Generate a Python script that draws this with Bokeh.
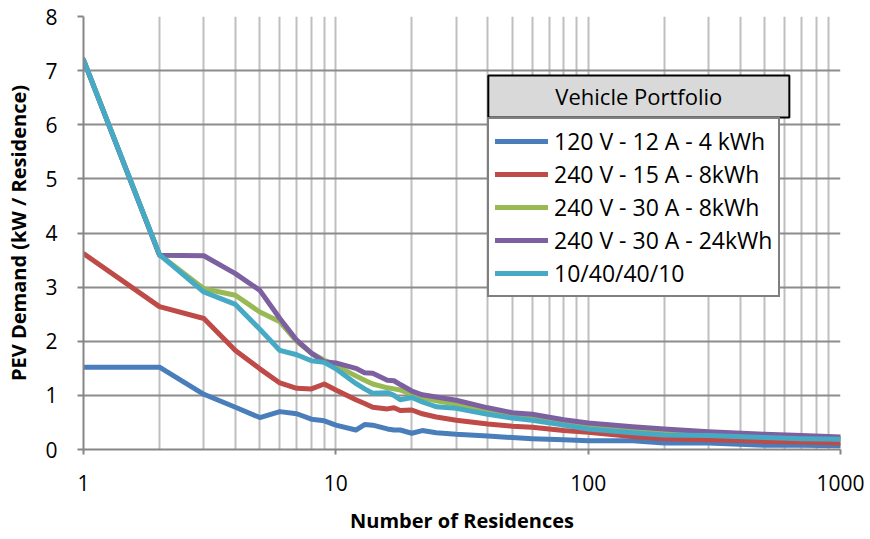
from bokeh.plotting import figure
from bokeh.models import (Legend, LegendItem, FixedTicker, PrintfTickFormatter,
                          BoxAnnotation, Label, Range1d)
from bokeh.embed import file_html
from bokeh.resources import INLINE

# ---------------- data ----------------
residences = [1, 2, 3, 4, 5, 6, 7, 8, 9, 10, 12, 13, 14, 16, 17, 18, 20, 22, 25, 30,
              40, 50, 60, 80, 100, 150, 200, 300, 500, 700, 1000]

series_names = ["120 V - 12 A - 4 kWh", "240 V - 15 A - 8kWh", "240 V - 30 A - 8kWh",
                "240 V - 30 A - 24kWh", "10/40/40/10"]

v120_12a_4kwh = [1.52, 1.52, 1.02, 0.78, 0.59, 0.70, 0.66, 0.56, 0.53, 0.45, 0.36, 0.46, 0.45,
                 0.38, 0.36, 0.36, 0.30, 0.35, 0.31, 0.28, 0.25, 0.22, 0.20, 0.18, 0.16, 0.16,
                 0.12, 0.12, 0.08, 0.08, 0.07]
v240_15a_8kwh = [3.62, 2.64, 2.42, 1.83, 1.49, 1.23, 1.13, 1.12, 1.21, 1.10, 0.92, 0.85, 0.78,
                 0.75, 0.77, 0.72, 0.73, 0.66, 0.60, 0.54, 0.47, 0.43, 0.41, 0.35, 0.32, 0.24,
                 0.20, 0.18, 0.15, 0.14, 0.12]
v240_30a_8kwh = [7.20, 3.60, 2.97, 2.85, 2.54, 2.36, 2.00, 1.78, 1.65, 1.55, 1.36, 1.28, 1.21,
                 1.14, 1.12, 1.10, 1.02, 0.96, 0.90, 0.84, 0.70, 0.63, 0.58, 0.50, 0.44, 0.36,
                 0.32, 0.27, 0.24, 0.22, 0.20]
v240_30a_24kwh = [7.20, 3.59, 3.58, 3.25, 2.94, 2.42, 2.02, 1.78, 1.62, 1.60, 1.50, 1.42, 1.41,
                  1.28, 1.27, 1.20, 1.08, 1.01, 0.97, 0.91, 0.77, 0.68, 0.65, 0.55, 0.49, 0.42,
                  0.38, 0.33, 0.28, 0.26, 0.23]
mix_10_40_40_10 = [7.20, 3.60, 2.91, 2.68, 2.22, 1.83, 1.75, 1.64, 1.61, 1.49, 1.22, 1.12, 1.04,
                   1.05, 1.00, 0.92, 0.96, 0.88, 0.79, 0.76, 0.65, 0.58, 0.54, 0.45, 0.38, 0.31,
                   0.27, 0.26, 0.22, 0.20, 0.19]

series_values = [v120_12a_4kwh, v240_15a_8kwh, v240_30a_8kwh, v240_30a_24kwh, mix_10_40_40_10]
series_colors = ["#4A7EBB", "#BE4B48", "#98B954", "#7D60A0", "#46AAC5"]

x_major = [1, 10, 100, 1000]
y_ticks = [0, 1, 2, 3, 4, 5, 6, 7, 8]

# ---------------- figure ----------------
p = figure(width=870, height=539, x_axis_type="log",
           x_range=Range1d(1, 1000), y_range=Range1d(0, 8),
           output_backend="svg", toolbar_location=None,
           min_border_left=83, min_border_right=30, min_border_top=16, min_border_bottom=90)
p.outline_line_color = None
p.background_fill_color = "white"
p.border_fill_color = "white"

minor = [m * d for d in (1, 10, 100) for m in range(2, 10)]
p.xaxis.ticker = FixedTicker(ticks=x_major, minor_ticks=minor)
p.xaxis.formatter = PrintfTickFormatter(format="%d")
p.yaxis.ticker = FixedTicker(ticks=y_ticks, minor_ticks=[])

p.xgrid.grid_line_color = "#BFBFBF"
p.xgrid.grid_line_width = 2
p.xgrid.minor_grid_line_color = "#BFBFBF"
p.xgrid.minor_grid_line_width = 2
p.ygrid.grid_line_color = "#8C8C8C"
p.ygrid.grid_line_width = 2

for ax in (p.xaxis[0], p.yaxis[0]):
    ax.axis_line_color = "#868686"
    ax.axis_line_width = 2
    ax.major_tick_line_color = "#868686"
    ax.major_tick_line_width = 2
    ax.minor_tick_out = 0
    ax.minor_tick_in = 0
    ax.major_tick_in = 0
    ax.major_label_text_font = "Open Sans"
    ax.major_label_text_font_size = "21px"
    ax.major_label_text_color = "black"
    ax.axis_label_text_font = "Open Sans"
    ax.axis_label_text_font_style = "bold"
    ax.axis_label_text_font_size = "20px"
    ax.axis_label_text_color = "black"

p.xaxis.major_tick_out = 5
p.xaxis.major_label_standoff = 20
p.xaxis.axis_label = "Number of Residences"
p.xaxis.axis_label_standoff = 13
p.yaxis.major_tick_out = 6
p.yaxis.major_label_standoff = 20
p.yaxis.axis_label = "PEV Demand (kW / Residence)"
p.yaxis.axis_label_standoff = 10

items = []
for name, vals, col in zip(series_names, series_values, series_colors):
    r = p.line(residences, vals, line_color=col, line_width=5,
               line_join="round", line_cap="round")
    items.append(LegendItem(label=name, renderers=[r]))

legend = Legend(items=items, location=(404, 152),
                border_line_color="black", border_line_width=2,
                background_fill_color="white", background_fill_alpha=1,
                label_text_font="Open Sans", label_text_font_size="23px",
                label_text_color="black",
                glyph_width=53, glyph_height=30, label_height=30,
                spacing=1, padding=6, label_standoff=6, margin=0)
p.add_layout(legend)

# header box of the legend ("Vehicle Portfolio")
hdr_left, hdr_right = 40.2, 627.0
hdr_bottom, hdr_top = 6.134, 6.91
p.add_layout(BoxAnnotation(left=hdr_left, right=hdr_right, bottom=hdr_bottom, top=hdr_top,
                           fill_color="#D9D9D9", fill_alpha=1,
                           line_color="black", line_alpha=1, line_width=2, level="overlay"))
p.add_layout(Label(x=(hdr_left * hdr_right) ** 0.5, y=(hdr_bottom + hdr_top) / 2,
                   text="Vehicle Portfolio", text_align="center", text_baseline="middle",
                   text_font="Open Sans", text_font_size="22px", text_color="black",
                   level="overlay"))

open("out.html", "w").write(file_html(p, INLINE))
